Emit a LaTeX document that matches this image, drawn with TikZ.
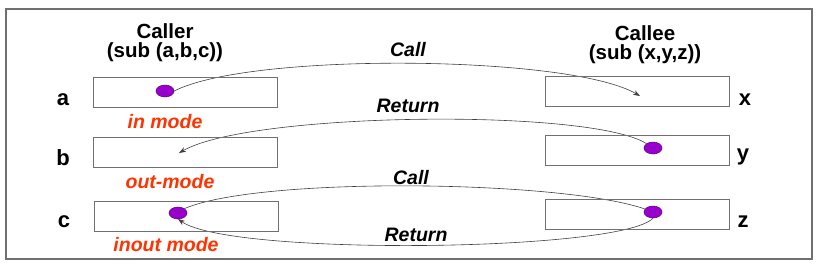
\documentclass[tikz,border=0pt]{standalone}
\usepackage{fontspec}
\setmainfont{Liberation Sans}
\usepackage{tikz}
\usetikzlibrary{calc,positioning,shapes.geometric,arrows.meta}
\usepackage{xcolor}
\definecolor{modered}{HTML}{FF3300}
\definecolor{dotpurple}{HTML}{9900CC}
\definecolor{boxgray}{HTML}{707070}
\pgfdeclarelayer{flows}
\pgfsetlayers{flows,main}

\tikzset{
    varbox/.style={draw=boxgray, line width=0.9pt, minimum width=184pt, minimum height=30pt, inner sep=0pt},
    argdot/.style={ellipse, draw=dotpurple!60!black, fill=dotpurple, line width=0.5pt, minimum width=18pt, minimum height=12pt, inner sep=0pt},
    letter/.style={font=\fontsize{22}{24}\selectfont\bfseries},
    heading/.style={font=\fontsize{20.5}{19}\selectfont\bfseries, align=center},
    modelabel/.style={text=modered, font=\fontsize{19.5}{20}\selectfont\bfseries\itshape},
    flowlabel/.style={font=\fontsize{19.5}{20}\selectfont\bfseries\itshape},
    flow/.style={-{Stealth[length=7pt,width=5pt]}, line width=0.6pt, draw=black!75}
}

\begin{document}
\begin{tikzpicture}[x=1pt, y=-1pt]
    \useasboundingbox (0,0) rectangle (823,266);
    % Frame
    \draw[boxgray, line width=1.3pt] (6,9) rectangle (812,259);

    % Caller side
    \node[heading] (caller) at (165,43) {Caller\\(sub (a,b,c))};
    \node[varbox] (boxa) at (185,92) {};
    \node[varbox] (boxb) at (185,152) {};
    \node[varbox] (boxc) at (186,216) {};
    \node[letter] (la) at (63,100) {a};
    \node[letter] (lb) at (63,158) {b};
    \node[letter] (lc) at (64,222) {c};
    \node[modelabel] (ina) at (165,122) {in mode};
    \node[modelabel] (outb) at (170,182) {out-mode};
    \node[modelabel] (inoutc) at (166,245) {inout mode};

    % Callee side
    \node[heading] (callee) at (645,45) {Callee\\(sub (x,y,z))};
    \node[varbox] (boxx) at (637,91) {};
    \node[varbox] (boxy) at (637,150) {};
    \node[varbox] (boxz) at (637,214) {};
    \node[letter] (lx) at (745,100) {x};
    \node[letter] (ly) at (743,157) {y};
    \node[letter] (lz) at (743,222) {z};

    % Dots and arrow ends
    \node[argdot] (da) at (165,91) {};
    \node[argdot] (dc) at (178,213) {};
    \node[argdot] (dy) at (653,148) {};
    \node[argdot] (dz) at (653,212) {};
    \coordinate (tx) at (640,96);
    \coordinate (tb) at (179,153);
    \coordinate (tc) at (178,219);

    % Flows, under the dots
    \begin{pgfonlayer}{flows}
    \draw[flow] (da.east) .. controls (250,52) and (570,55) .. (tx);
    \draw[flow] (dy.north west) .. controls (590,108) and (250,112) .. (tb);
    \draw[flow] (dc.north east) .. controls (260,176) and (570,180) .. (dz.center);
    \draw[flow] (dz.south) .. controls (620,252) and (230,256) .. (tc);
    \end{pgfonlayer}

    \node[flowlabel] (call1) at (408,50) {Call};
    \node[flowlabel] (ret1) at (408,106) {Return};
    \node[flowlabel] (call2) at (411,178) {Call};
    \node[flowlabel] (ret2) at (416,235) {Return};
\end{tikzpicture}
\end{document}
